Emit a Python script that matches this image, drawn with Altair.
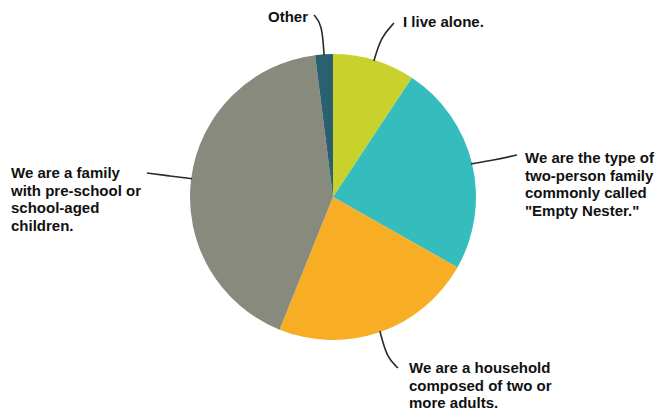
import altair as alt
import pandas as pd
import numpy as np

# ---- data ----
categories = [
    "I live alone.",
    "We are the type of\ntwo-person family\ncommonly called\n\"Empty Nester.\"",
    "We are a household\ncomposed of two or\nmore adults.",
    "We are a family\nwith pre-school or\nschool-aged\nchildren.",
    "Other",
]
values = [9.3, 23.9, 22.9, 41.9, 2.0]
colors = ["#c9d22c", "#35bdbe", "#f7ad24", "#878a7c", "#2b6070"]

# ---- layout (pixels) ----
W, H = 660, 411
CX, CY, R = 333, 197, 143
label_x = [403, 525, 409, 11, 268]
label_y = [15, 151, 361, 166, 10]
elbow_x = [381, 495, 387, 170, 322]
elbow_y = [37, 160, 358, 176, 24]
end_x = [394, 517, 398, 147, 314]
end_y = [23, 155, 368, 173, 15]

# ---- tables ----
df = pd.DataFrame({"cat": categories, "value": values, "order": range(len(values))})

total = sum(values)
cum = np.cumsum([0] + values)
mid = [(cum[i] + values[i] / 2) / total * 2 * np.pi for i in range(len(values))]

rows = []
for i, a in enumerate(mid):
    sx = CX + (R - 1) * np.sin(a)
    sy = CY - (R - 1) * np.cos(a)
    pts = [(sx, sy), (elbow_x[i], elbow_y[i]), (end_x[i], end_y[i])]
    for k, (px, py) in enumerate(pts):
        rows.append({"g": i, "k": k, "x": px, "y": py})
lines_df = pd.DataFrame(rows)

labels_df = pd.DataFrame({"text": categories, "x": label_x, "y": label_y})

xs = alt.Scale(domain=[0, W], range=[0, W])
ys = alt.Scale(domain=[0, H], range=[0, H])

pie = alt.Chart(df).mark_arc(outerRadius=R, stroke=None).encode(
    theta=alt.Theta("value:Q", stack=True),
    order=alt.Order("order:Q"),
    color=alt.Color("cat:N", scale=alt.Scale(domain=categories, range=colors), legend=None),
    x=alt.value(CX),
    y=alt.value(CY),
)

leaders = alt.Chart(lines_df).mark_line(
    color="#2a2a2a", strokeWidth=1.6, interpolate="basis"
).encode(
    x=alt.X("x:Q", scale=xs, axis=None),
    y=alt.Y("y:Q", scale=ys, axis=None),
    detail="g:N",
    order="k:Q",
)

labels = alt.Chart(labels_df).mark_text(
    align="left", baseline="top", font="Liberation Sans", fontWeight="bold",
    fontSize=15, lineBreak="\n", lineHeight=17.6, color="#111111",
).encode(
    x=alt.X("x:Q", scale=xs, axis=None),
    y=alt.Y("y:Q", scale=ys, axis=None),
    text="text:N",
)

chart = alt.layer(pie, leaders, labels).properties(
    width=W, height=H, autosize=alt.AutoSizeParams(type="none"), padding=0,
    background="white",
).configure_view(stroke=None)

chart.save("out.html", embed_options={"renderer": "svg", "actions": False})
